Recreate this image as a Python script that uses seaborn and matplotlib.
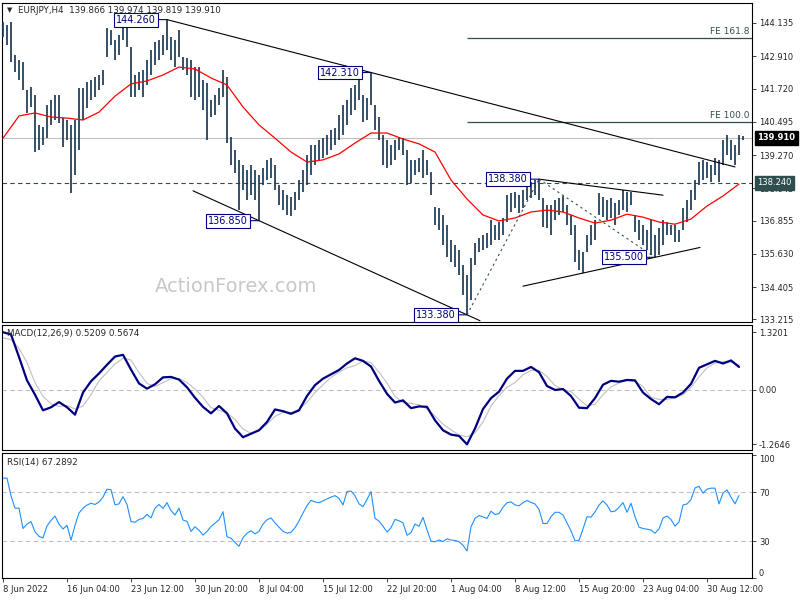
import numpy as np
import pandas as pd
import seaborn as sns
import matplotlib.pyplot as plt
import matplotlib.transforms as mtransforms

# EURJPY H4, una muestra cada 2 velas (maximos y minimos)
highs = [144.17, 144.06, 144.17, 142.96, 142.77, 142.70, 141.67, 141.78, 141.48, 140.38,
         140.30, 141.11, 141.30, 141.48, 141.48, 140.63, 140.56, 140.38, 140.56, 141.74,
         141.74, 141.96, 142.03, 142.14, 142.22, 142.40, 143.95, 143.88, 143.51, 143.69,
         144.15, 144.06, 143.25, 142.22, 142.33, 142.40, 142.77, 143.14, 143.43, 143.51,
         143.69, 144.26, 143.62, 143.51, 143.88, 142.88, 142.85, 142.77, 142.51, 142.51,
         142.03, 141.92, 141.30, 141.48, 141.74, 142.40, 142.14, 139.93, 139.45, 139.09,
         138.90, 138.72, 138.90, 138.72, 138.53, 138.79, 139.09, 139.16, 138.90, 138.16,
         137.98, 137.80, 137.72, 137.91, 138.35, 138.72, 139.27, 139.64, 139.64, 139.82,
         139.90, 140.01, 140.19, 140.27, 140.74, 141.11, 141.30, 141.74, 141.85, 142.03,
         141.48, 141.37, 142.31, 141.11, 140.67, 140.01, 139.82, 139.64, 139.82, 139.93,
         139.90, 139.45, 139.09, 139.09, 139.16, 139.45, 139.09, 138.64, 137.35, 137.32,
         137.06, 136.69, 136.14, 135.95, 135.77, 135.21, 134.85, 135.47, 136.03, 136.21,
         136.32, 136.39, 136.87, 136.69, 136.80, 136.95, 137.80, 137.87, 137.91, 137.80,
         137.98, 138.16, 138.27, 138.35, 138.38, 137.69, 137.43, 137.43, 137.61, 137.69,
         137.76, 137.43, 137.06, 136.69, 135.77, 135.69, 136.32, 136.69, 136.87, 137.87,
         137.72, 137.61, 137.69, 137.50, 137.61, 137.98, 137.91, 137.90, 137.06, 136.87,
         136.69, 136.50, 136.87, 136.32, 136.58, 136.87, 136.80, 136.69, 136.69, 136.50,
         137.32, 137.61, 137.98, 138.35, 139.01, 139.09, 139.01, 138.90, 139.16, 139.09,
         139.82, 140.01, 139.82, 139.64, 140.01, 139.974]
lows = [143.62, 143.32, 142.70, 142.33, 142.03, 141.67, 140.82, 141.04, 139.38, 139.45,
        139.64, 139.90, 140.38, 140.56, 140.45, 139.56, 139.82, 137.87, 138.53, 139.45,
        140.56, 141.00, 141.30, 141.41, 141.67, 141.85, 142.88, 143.32, 142.77, 142.96,
        143.51, 143.25, 141.41, 141.41, 141.67, 141.41, 141.85, 142.22, 142.59, 142.77,
        142.96, 143.14, 142.77, 142.51, 142.88, 142.40, 142.22, 141.41, 141.30, 141.41,
        140.93, 139.82, 140.67, 140.74, 141.11, 141.41, 139.71, 138.90, 138.61, 137.24,
        137.98, 137.61, 137.80, 137.61, 136.85, 138.16, 138.35, 138.42, 137.98, 137.43,
        137.24, 137.06, 137.03, 137.24, 137.61, 137.91, 138.16, 138.53, 138.90, 139.09,
        139.16, 139.27, 139.45, 139.64, 139.82, 140.01, 140.38, 140.74, 140.93, 141.30,
        140.49, 140.56, 141.11, 140.19, 139.82, 138.90, 138.79, 138.90, 139.09, 139.45,
        139.27, 138.16, 138.24, 138.53, 138.64, 138.42, 138.53, 137.80, 136.69, 136.50,
        135.95, 135.51, 135.32, 135.14, 134.85, 134.11, 133.38, 133.93, 135.21, 135.69,
        135.77, 135.84, 135.95, 136.14, 136.14, 136.32, 136.80, 137.17, 137.32, 137.13,
        137.32, 137.61, 137.69, 137.80, 137.61, 136.62, 136.58, 136.32, 136.87, 137.06,
        137.17, 136.69, 136.32, 135.32, 135.03, 134.92, 135.69, 135.95, 136.14, 137.06,
        136.98, 136.87, 136.95, 136.69, 137.06, 137.24, 137.17, 137.43, 136.43, 136.14,
        135.95, 135.77, 135.58, 135.50, 135.58, 135.95, 136.32, 136.32, 136.06, 136.06,
        136.50, 136.80, 137.24, 137.61, 138.16, 138.35, 138.42, 138.27, 138.53, 138.27,
        138.90, 139.27, 139.09, 138.90, 139.27, 139.819]
last_bar = [139.866, 139.974, 139.819, 139.910]   # O H L C
key_level = 138.240

# media movil (una muestra cada 8 velas)
ma55 = [139.89, 140.71, 140.82, 140.67, 140.63, 140.56, 140.85, 141.44, 141.89, 142.00,
        142.22, 142.51, 142.44, 142.11, 141.85, 141.04, 140.38, 139.89, 139.38, 139.01,
        139.09, 139.31, 139.71, 140.08, 140.08, 139.86, 139.68, 139.38, 138.35, 137.65,
        137.06, 136.84, 136.95, 137.17, 137.24, 137.17, 136.95, 136.76, 136.87, 137.09,
        136.98, 136.80, 136.72, 136.91, 137.39, 137.76, 138.20]

# MACD(12,26,9), una muestra cada 4 velas
macd = [1.32, 1.27, 0.75, 0.21, -0.12, -0.48, -0.41, -0.29, -0.41, -0.58,
        -0.07, 0.19, 0.37, 0.57, 0.76, 0.80, 0.46, 0.14, 0.02, 0.12,
        0.28, 0.29, 0.23, 0.05, -0.19, -0.40, -0.55, -0.38, -0.55, -0.90,
        -1.10, -1.02, -0.94, -0.75, -0.46, -0.50, -0.56, -0.48, -0.15, 0.10,
        0.25, 0.35, 0.45, 0.60, 0.72, 0.66, 0.53, 0.20, -0.10, -0.30,
        -0.25, -0.43, -0.39, -0.40, -0.71, -0.94, -1.04, -1.07, -1.2646, -0.90,
        -0.45, -0.20, -0.05, 0.25, 0.43, 0.43, 0.52, 0.40, 0.08, -0.01,
        0.01, -0.15, -0.42, -0.43, -0.20, 0.11, 0.20, 0.18, 0.22, 0.21,
        -0.07, -0.22, -0.34, -0.17, -0.18, -0.07, 0.13, 0.50, 0.58, 0.66,
        0.60, 0.67, 0.5209]
signal = [1.19, 1.15, 0.95, 0.62, 0.16, -0.16, -0.33, -0.39, -0.37, -0.45,
          -0.38, -0.12, 0.20, 0.39, 0.59, 0.72, 0.68, 0.39, 0.14, 0.07,
          0.16, 0.25, 0.25, 0.16, 0.01, -0.18, -0.42, -0.48, -0.54, -0.69,
          -0.91, -1.01, -0.95, -0.80, -0.62, -0.53, -0.53, -0.46, -0.29, -0.07,
          0.11, 0.28, 0.40, 0.50, 0.55, 0.66, 0.62, 0.40, 0.15, -0.16,
          -0.30, -0.32, -0.35, -0.45, -0.61, -0.80, -0.93, -1.05, -1.09, -1.00,
          -0.75, -0.38, -0.14, 0.05, 0.16, 0.34, 0.44, 0.44, 0.30, 0.09,
          0.00, -0.05, -0.22, -0.38, -0.34, -0.12, 0.06, 0.15, 0.21, 0.19,
          0.07, -0.18, -0.23, -0.23, -0.19, -0.12, 0.05, 0.29, 0.50, 0.61,
          0.64, 0.63, 0.5674]

# RSI(14), una muestra cada 2 velas
rsi = [81.5, 81.5, 67, 57, 57, 40.4, 44, 46, 37.7, 34, 32.7, 42.5, 47, 50.5, 44, 40, 43, 30.8, 43, 53,
       57, 59.5, 61, 60, 62, 66, 72.5, 72, 59.6, 60.5, 66.4, 60, 46, 45.5, 47.8, 48.6, 52, 49, 57, 60,
       56.8, 61.5, 55, 51.4, 57, 47.3, 46.2, 38, 41.8, 39, 35, 38, 42, 44.7, 47.5, 54.1, 33.6, 32.5, 29, 25.9,
       33, 36.5, 38.5, 36, 38, 44, 47.5, 49, 45, 41.5, 38, 36.6, 37.3, 41, 46.5, 53, 59, 63.4, 62, 61.4,
       63, 64.5, 66, 67.2, 65, 59.6, 70.5, 71, 67, 60.5, 58.2, 64, 70.5, 48.6, 46.4, 42.3, 37.5, 41, 47.8, 46.7,
       45, 34.8, 37, 44, 42.2, 49.5, 39.3, 30, 29.5, 31, 29.7, 32, 31, 30.6, 29.6, 26.7, 22, 41.8, 48.6, 51,
       49.8, 48.6, 54.5, 51.8, 52.5, 57.7, 61.4, 62.1, 59.6, 58.9, 61.5, 63.2, 61.7, 60.4, 56, 44.5, 44.5, 50, 53.6, 53.6,
       51.4, 45, 38.4, 30.3, 30.7, 40, 50, 49.6, 53.9, 59.5, 62.9, 59.6, 54, 54.6, 57.7, 61.5, 53.6, 61, 50, 41.5,
       40.4, 39.8, 39.2, 36.5, 40, 49, 50.5, 47.7, 42.3, 45.6, 59.6, 60.4, 64, 73.5, 74.8, 69.2, 72.5, 73.3, 73.3, 60.5,
       69.2, 71.9, 66, 60.5, 67.2892]

tick_bars = [0, 32, 64, 96, 128, 160, 192, 224, 256, 288, 320, 352]
tick_labels = ['8 Jun 2022', '16 Jun 04:00', '23 Jun 12:00', '30 Jun 20:00', '8 Jul 04:00',
               '15 Jul 12:00', '22 Jul 20:00', '1 Aug 04:00', '8 Aug 12:00', '15 Aug 20:00',
               '23 Aug 04:00', '30 Aug 12:00']
price_ticks = [144.135, 142.910, 141.720, 140.495, 139.270, 138.045, 136.855, 135.630, 134.405, 133.215]

bars = pd.DataFrame({'bar': np.arange(len(highs)) * 2, 'high': highs, 'low': lows})
ma_df = pd.DataFrame({'bar': np.arange(len(ma55)) * 8, 'ma': ma55})
macd_df = pd.DataFrame({'bar': np.arange(len(macd)) * 4, 'macd': macd, 'signal': signal})
rsi_df = pd.DataFrame({'bar': np.arange(len(rsi)) * 2, 'rsi': rsi})

sns.set_style('white')
plt.rcParams['font.family'] = ['DejaVu Sans']

NAVY = '#000080'
SLATE = '#2f4f4f'
fig = plt.figure(figsize=(8, 6), dpi=100)
ax1 = fig.add_axes([0.0025, 0.4633, 0.9375, 0.5317])
ax2 = fig.add_axes([0.0025, 0.25, 0.9375, 0.2083], sharex=ax1)
ax3 = fig.add_axes([0.0025, 0.0367, 0.9375, 0.2083], sharex=ax1)

for ax in (ax1, ax2, ax3):
    for s in ax.spines.values():
        s.set_color('black')
        s.set_linewidth(0.8)
    ax.yaxis.tick_right()
    ax.tick_params(axis='y', which='both', direction='out', length=3, width=0.6,
                   labelsize=6, pad=2, right=True, left=False)

# ---- panel de precio
ax1.text(0.312, 0.11, 'ActionForex.com', transform=ax1.transAxes, fontsize=14,
         color='#c8c8c8', ha='center', va='center', zorder=0)
ax1.axhline(last_bar[3], color='#c0c0c0', lw=0.8, zorder=1)
ax1.axhline(key_level, color=SLATE, lw=0.8, ls=(0, (4, 3)), zorder=1)
ax1.vlines(bars['bar'], bars['low'], bars['high'], color='#1b3a55', lw=1.25, zorder=3)
sns.lineplot(data=ma_df, x='bar', y='ma', ax=ax1, color='red', lw=0.9, zorder=4)


def recta(ax, p1, p2, x0, x1, **kw):
    m = (p2[1] - p1[1]) / (p2[0] - p1[0])
    xs = np.array([x0, x1])
    ax.plot(xs, p1[1] + m * (xs - p1[0]), **kw)


lk = dict(color='black', lw=0.8, zorder=5)
recta(ax1, (82, highs[41]), (184, highs[92]), 82, 366, **lk)
recta(ax1, (128, lows[64]), (232, lows[116]), 95, 238.5, **lk)
recta(ax1, (268, highs[134]), (310, highs[155]), 268, 330, **lk)
recta(ax1, (290, lows[145]), (326, lows[163]), 260, 348.5, **lk)
ax1.plot([232, 268], [lows[116], highs[134]], color=SLATE, lw=0.8, ls=(0, (2, 3)), zorder=5)
ax1.plot([268, 326], [highs[134], lows[163]], color=SLATE, lw=0.8, ls=(0, (2, 3)), zorder=5)

onda = highs[134] - lows[116]
for r, txt in [(1.0, 'FE 100.0'), (1.618, 'FE 161.8')]:
    nivel = lows[163] + r * onda
    ax1.hlines(nivel, 232, 374.5, color=SLATE, lw=0.9, zorder=2)
    ax1.text(373.5, nivel + 0.06, txt, ha='right', va='bottom', fontsize=6.5, color=SLATE)


def etiqueta(ax, x, y):
    ax.annotate(f'{y:.3f}', xy=(x, y), xytext=(-8, 0), textcoords='offset points',
                ha='right', va='center', fontsize=7, color=NAVY, zorder=8,
                bbox=dict(boxstyle='square,pad=0.2', fc='white', ec=NAVY, lw=0.8),
                arrowprops=dict(arrowstyle='-', color=NAVY, lw=0.8, shrinkA=0, shrinkB=0))


for k in (41, 92, 134):
    etiqueta(ax1, 2 * k, highs[k])
for k in (64, 116, 163):
    etiqueta(ax1, 2 * k, lows[k])

ax1.set_ylim(133.115, 144.872)
ax1.set_yticks(price_ticks)
ax1.set_yticklabels([f'{v:.3f}' for v in price_ticks])
trans = mtransforms.blended_transform_factory(ax1.transAxes, ax1.transData)
ax1.text(1.007, last_bar[3], f'{last_bar[3]:.3f}', transform=trans, ha='left', va='center',
         fontsize=6, color='white', fontweight='bold', clip_on=False, zorder=10,
         bbox=dict(boxstyle='square,pad=0.3', fc='black', ec='black'))
ax1.text(1.007, key_level, f'{key_level:.3f}', transform=trans, ha='left', va='center',
         fontsize=6, color='white', clip_on=False, zorder=10,
         bbox=dict(boxstyle='square,pad=0.3', fc=SLATE, ec=SLATE))
ax1.text(0.0065, 0.978, '\u25bc', transform=ax1.transAxes, fontsize=5, va='center')
ax1.text(0.0213, 0.978, 'EURJPY,H4  ' + ' '.join(f'{v:.3f}' for v in last_bar),
         transform=ax1.transAxes, fontsize=6.3, va='center')
ax1.tick_params(axis='x', bottom=False, labelbottom=False)

# ---- MACD
ax2.axhline(0, color='#c0c0c0', lw=0.8, ls=(0, (4, 3)))
sns.lineplot(data=macd_df, x='bar', y='signal', ax=ax2, color='#c0c0c0', lw=0.8)
sns.lineplot(data=macd_df, x='bar', y='macd', ax=ax2, color=NAVY, lw=1.6)
ax2.set_ylim(-1.395, 1.487)
ax2.set_yticks([1.3201, 0.0, -1.2646])
ax2.set_yticklabels(['1.3201', '0.00', '-1.2646'])
ax2.text(0.0067, 0.935, f'MACD(12,26,9) {macd[-1]:.4f} {signal[-1]:.4f}',
         transform=ax2.transAxes, fontsize=6.3, va='center')
ax2.tick_params(axis='x', bottom=False, labelbottom=False)

# ---- RSI
for lv in (70, 30):
    ax3.axhline(lv, color='#c0c0c0', lw=0.8, ls=(0, (4, 3)))
sns.lineplot(data=rsi_df, x='bar', y='rsi', ax=ax3, color='#1e90ff', lw=0.8)
ax3.set_ylim(0, 102)
ax3.set_yticks([100, 70, 30, 0])
ax3.set_yticklabels(['100', '70', '30', '0'])
yl = ax3.get_yticklabels()
yl[0].set_va('top')
yl[3].set_va('bottom')
ax3.text(0.0067, 0.92, f'RSI(14) {rsi[-1]:.4f}', transform=ax3.transAxes, fontsize=6.3, va='center')

ax3.set_xticks(tick_bars)
ax3.set_xticklabels(tick_labels, ha='left', fontsize=6)
ax3.tick_params(axis='x', direction='out', length=3, width=0.6, pad=2, bottom=True)
ax3.set_xlim(-0.5, 374.5)

for ax in (ax1, ax2, ax3):
    ax.set_xlabel('')
    ax.set_ylabel('')

fig.savefig('out.png', dpi=100)
